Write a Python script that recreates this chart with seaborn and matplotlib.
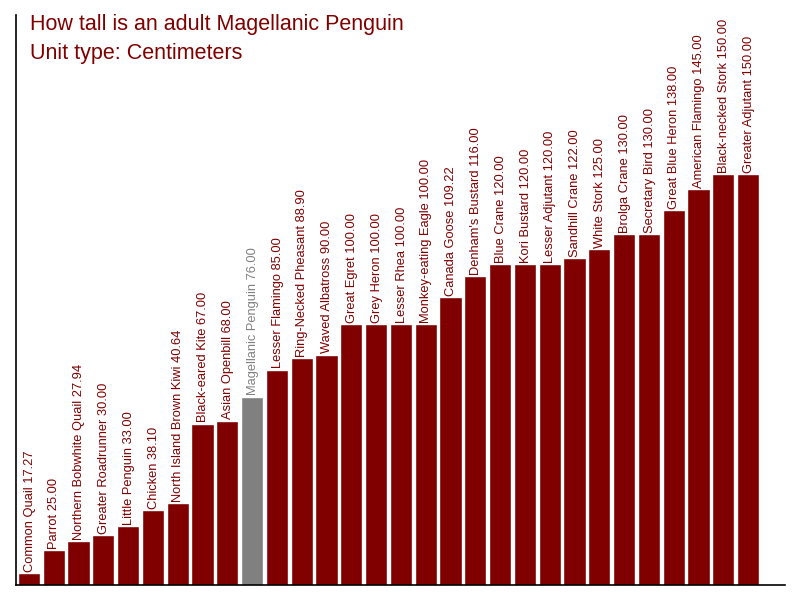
import matplotlib
matplotlib.use("Agg")
import matplotlib.pyplot as plt
import seaborn as sns
import pandas as pd

birds = ["Common Quail", "Parrot", "Northern Bobwhite Quail", "Greater Roadrunner",
         "Little Penguin", "Chicken", "North Island Brown Kiwi", "Black-eared Kite",
         "Asian Openbill", "Magellanic Penguin", "Lesser Flamingo", "Ring-Necked Pheasant",
         "Waved Albatross", "Great Egret", "Grey Heron", "Lesser Rhea",
         "Monkey-eating Eagle", "Canada Goose", "Denham's Bustard", "Blue Crane",
         "Kori Bustard", "Lesser Adjutant", "Sandhill Crane", "White Stork",
         "Brolga Crane", "Secretary Bird", "Great Blue Heron", "American Flamingo",
         "Black-necked Stork", "Greater Adjutant"]
heights = [17.27, 25.00, 27.94, 30.00, 33.00, 38.10, 40.64, 67.00, 68.00, 76.00,
           85.00, 88.90, 90.00, 100.00, 100.00, 100.00, 100.00, 109.22, 116.00, 120.00,
           120.00, 120.00, 122.00, 125.00, 130.00, 130.00, 138.00, 145.00, 150.00, 150.00]
highlight = "Magellanic Penguin"
title_lines = ["How tall is an adult Magellanic Penguin", "Unit type: Centimeters"]

RED = "#800000"
GRAY = "#808080"

sns.set_theme(style="white")
plt.rcParams['font.family'] = ['Liberation Sans', 'DejaVu Sans']

df = pd.DataFrame({"bird": birds, "height": heights})
colors = {b: (GRAY if b == highlight else RED) for b in birds}

fig = plt.figure(figsize=(8, 6), dpi=100)
ax = fig.add_axes([0.02, 0.025, 0.961, 0.95])
sns.barplot(data=df, x="bird", y="height", hue="bird", palette=colors,
            order=birds, hue_order=birds, width=0.89, saturation=1,
            legend=False, ax=ax)

for i, (b, h) in enumerate(zip(birds, heights)):
    ax.text(i + 0.03, h + 0.4, f"{b} {h:.2f}", rotation=90, ha="center", va="bottom",
            fontsize=9.3, color=colors[b])

ax.set_ylim(13.3, 203)
ax.set_xlim(-0.52, 30.48)
ax.set_xticks([])
ax.set_yticks([])
ax.set_xlabel("")
ax.set_ylabel("")
for s in ["top", "right"]:
    ax.spines[s].set_visible(False)
for s in ["left", "bottom"]:
    ax.spines[s].set_color("black")
    ax.spines[s].set_linewidth(1.2)

fig.text(30 / 800, 1 - 30 / 600, title_lines[0], fontsize=15.5, color=RED, va="baseline")
fig.text(30 / 800, 1 - 59 / 600, title_lines[1], fontsize=15.5, color=RED, va="baseline")

fig.savefig("out.png", dpi=100)
